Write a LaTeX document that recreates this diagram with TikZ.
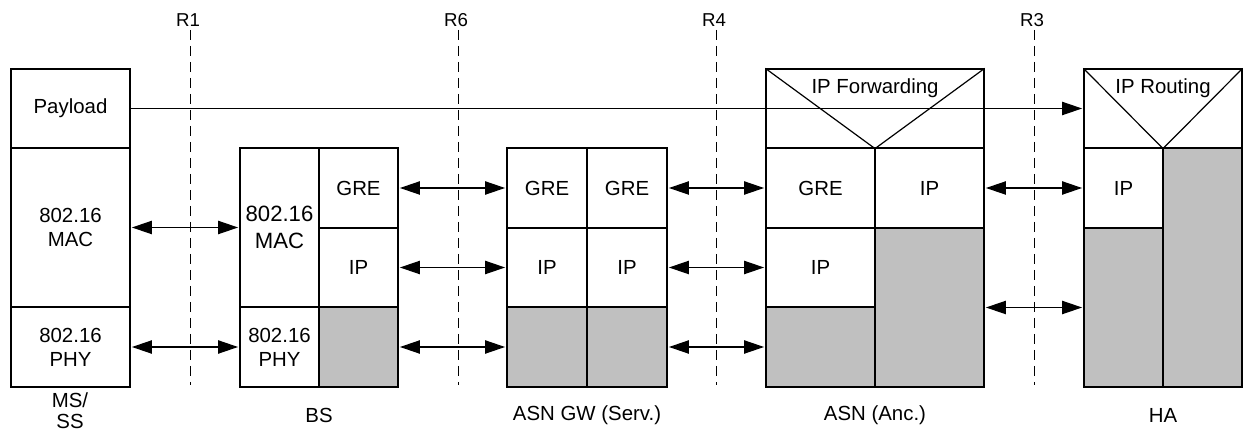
\documentclass[tikz,border=0pt]{standalone}
\usepackage{fontspec}
\setmainfont{Liberation Sans}
\usetikzlibrary{arrows.meta}
\definecolor{layergray}{RGB}{192,192,192}
\begin{document}
\begin{tikzpicture}[x=0.75pt,y=-0.75pt,
  txt/.style={font=\fontsize{15.3}{18}\selectfont, align=center, inner sep=0pt},
  cell/.style={draw, line width=0.9pt, inner sep=0pt, txt},
  grey/.style={cell, fill=layergray},
  sz/.style 2 args={minimum width=#1*0.75pt, minimum height=#2*0.75pt},
  bigtxt/.style={font=\fontsize{16.6}{20}\selectfont},
  tip/.tip={Triangle[length=15pt,width=10pt]},
  link/.style={line width=0.9pt, tip-tip, shorten <=1pt, shorten >=1pt},
  oneway/.style={line width=0.9pt, -tip, shorten >=1pt},
  refline/.style={line width=0.75pt, dash pattern=on 7.5pt off 4.5pt},
  reflabel/.style={font=\fontsize{14}{16}\selectfont, inner sep=0pt},
  caption/.style={txt}]
\useasboundingbox (0,0) rectangle (1243,434);

% reference point lines
\foreach \n/\x in {R1/190,R6/458,R4/716,R3/1034}{
  \coordinate (\n top) at (\x,30);
  \coordinate (\n bot) at (\x,385);
  \draw[refline] (\n top) -- (\n bot);
  \node[reflabel] (\n lab) at (\x-2,20) {\n};
}

% MS/SS
\node[cell, sz={119}{79}] (payload) at (70.5,108.5) {Payload};
\node[cell, sz={119}{159}] (msmac) at (70.5,227.5) {802.16\\MAC};
\node[cell, sz={119}{80}] (msphy) at (70.5,347) {802.16\\PHY};

% BS
\node[cell, bigtxt, sz={79}{159}] (bsmac) at (279.5,227.5) {802.16\\MAC};
\node[cell, sz={79}{80}] (bsgre) at (358.5,188) {GRE};
\node[cell, sz={79}{79}] (bsip) at (358.5,267.5) {IP};
\node[cell, sz={79}{80}] (bsphy) at (279.5,347) {802.16\\PHY};
\node[grey, sz={79}{80}] (bsl2) at (358.5,347) {};

% ASN GW
\node[cell, sz={80}{80}] (gwgre1) at (547,188) {GRE};
\node[cell, sz={80}{80}] (gwgre2) at (627,188) {GRE};
\node[cell, sz={80}{79}] (gwip1) at (547,267.5) {IP};
\node[cell, sz={80}{79}] (gwip2) at (627,267.5) {IP};
\node[grey, sz={80}{80}] (gwl21) at (547,347) {};
\node[grey, sz={80}{80}] (gwl22) at (627,347) {};

% ASN (Anc.)
\node[cell, sz={218}{79}] (anctop) at (875,108.5) {};
\draw[line width=0.9pt] (anctop.north west) -- (anctop.south) -- (anctop.north east);
\node[txt] (ancfwd) at (875,88) {IP Forwarding};
\node[cell, sz={109}{80}] (ancgre) at (820.5,188) {GRE};
\node[cell, sz={109}{80}] (ancip) at (929.5,188) {IP};
\node[cell, sz={109}{79}] (ancip2) at (820.5,267.5) {IP};
\node[grey, sz={109}{80}] (ancl2) at (820.5,347) {};
\node[grey, sz={109}{159}] (ancr) at (929.5,307.5) {};

% HA
\node[cell, sz={158}{79}] (hatop) at (1163,108.5) {};
\draw[line width=0.9pt] (hatop.north west) -- (hatop.south) -- (hatop.north east);
\node[txt] (harout) at (1163,88) {IP Routing};
\node[cell, sz={79}{80}] (haip) at (1123.5,188) {IP};
\node[grey, sz={79}{159}] (hal) at (1123.5,307.5) {};
\node[grey, sz={79}{239}] (har) at (1202.5,267.5) {};

% connectors
\draw[oneway] (payload.east) -- (hatop.west);
\draw[link] (msmac.east) -- (bsmac.west);
\draw[link] (msphy.east) -- (bsphy.west);
\draw[link] (bsgre.east) -- (gwgre1.west);
\draw[link] (bsip.east) -- (gwip1.west);
\draw[link] (bsl2.east) -- (gwl21.west);
\draw[link] (gwgre2.east) -- (ancgre.west);
\draw[link] (gwip2.east) -- (ancip2.west);
\draw[link] (gwl22.east) -- (ancl2.west);
\draw[link] (ancip.east) -- (haip.west);
\draw[link] (ancr.east) -- (hal.west);

% captions
\node[caption, font=\fontsize{15.3}{16}\selectfont] (cms) at (70,411) {MS/\\SS};
\node[caption] (cbs) at (319,415) {BS};
\node[caption] (cgw) at (587,415) {ASN GW (Serv.)};
\node[caption] (canc) at (875,415) {ASN (Anc.)};
\node[caption] (cha) at (1163,415) {HA};
\end{tikzpicture}
\end{document}
